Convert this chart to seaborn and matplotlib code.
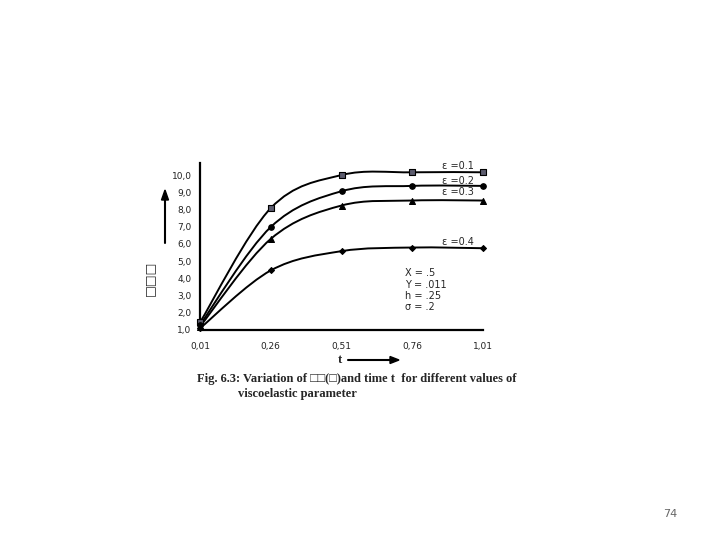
import numpy as np
import pandas as pd
import matplotlib
matplotlib.use("Agg")
import matplotlib.pyplot as plt
import seaborn as sns
from matplotlib.path import Path
from matplotlib.patches import PathPatch

# data
t = [0.01, 0.26, 0.51, 0.76, 1.01]
eps_01 = [1.44, 8.08, 10.00, 10.16, 10.16]
eps_02 = [1.30, 6.98, 9.06, 9.37, 9.37]
eps_03 = [1.20, 6.29, 8.23, 8.52, 8.52]
eps_04 = [1.10, 4.46, 5.58, 5.79, 5.75]
series_labels = ["ε =0.1", "ε =0.2", "ε =0.3", "ε =0.4"]
xtick_labels = ["0,01", "0,26", "0,51", "0,76", "1,01"]
ytick_values = [1, 2, 3, 4, 5, 6, 7, 8, 9, 10]
param_lines = ["X = .5", "Y = .011", "h = .25", "σ = .2"]

series = [eps_01, eps_02, eps_03, eps_04]
markers = ["s", "o", "^", "D"]
msizes = [22, 16, 18, 9]
fills = ["#5c5c6e", "black", "black", "black"]

sns.set_style("white")
plt.rcParams["font.family"] = ["DejaVu Sans"]

fig = plt.figure(figsize=(7.2, 5.4), dpi=100)
W, H = 720, 540
ax = fig.add_axes([200 / W, 1 - 330 / H, 283 / W, 167 / H])


def smooth_path(xs, ys):
    # Excel-like smoothed line: cubic bezier through the points
    p = np.column_stack([xs, ys]).astype(float)
    n = len(p)
    verts = [p[0]]
    codes = [Path.MOVETO]
    for i in range(n - 1):
        prev = p[i - 1] if i > 0 else p[i]
        nxt = p[i + 2] if i + 2 < n else p[i + 1]
        c1 = p[i] + (p[i + 1] - prev) / 6
        c2 = p[i + 1] - (nxt - p[i]) / 6
        verts += [c1, c2, p[i + 1]]
        codes += [Path.CURVE4] * 3
    return Path(verts, codes)


for ys, lab, m, s, fc in zip(series, series_labels, markers, msizes, fills):
    ax.add_patch(PathPatch(smooth_path(t, ys), fill=False, edgecolor="black",
                           lw=1.4, zorder=2))
    df = pd.DataFrame({"t": t, "v": ys})
    sns.scatterplot(data=df, x="t", y="v", marker=m, s=s, color=fc,
                    edgecolor="black", linewidth=0.8, ax=ax, zorder=3,
                    clip_on=False)

ax.set_xlim(0.01, 1.01)
ax.set_ylim(1, 10.7)
ax.set_xticks(t)
ax.set_xticklabels(xtick_labels)
ax.set_yticks(ytick_values)
ax.set_yticklabels([f"{v},0" for v in ytick_values])
ax.tick_params(axis="both", length=0, labelsize=6.5, colors="#222222")
ax.tick_params(axis="x", pad=9)
ax.tick_params(axis="y", pad=6)
ax.set_xlabel("")
ax.set_ylabel("")
for side in ["top", "right"]:
    ax.spines[side].set_visible(False)
for side in ["left", "bottom"]:
    ax.spines[side].set_color("black")
    ax.spines[side].set_linewidth(1.6)

# series labels
for lab, yp in zip(series_labels, [166, 181, 192, 242]):
    fig.text(474 / W, 1 - yp / H, lab, fontsize=7, ha="right", va="center")

# parameter block
for line, yp in zip(param_lines, [273, 285, 296, 307]):
    fig.text(405 / W, 1 - yp / H, line, fontsize=7, ha="left", va="center")

# y axis label and arrow
fig.text(150 / W, 1 - 278 / H, "□□□", rotation=90, fontsize=9,
         fontweight="bold", ha="center", va="center")
fig.add_artist(plt.Line2D([165 / W, 165 / W], [1 - 243 / H, 1 - 198 / H],
                          color="black", lw=1.5))
fig.patches.append(matplotlib.patches.FancyArrow(
    165 / W, 1 - 200 / H, 0, 10 / H, width=0, head_width=7 / W,
    head_length=10 / H, length_includes_head=True, color="black",
    transform=fig.transFigure, figure=fig))

# x axis label and arrow
fig.text(340 / W, 1 - 360 / H, "t", fontsize=9, fontweight="bold",
         family=["Liberation Serif", "DejaVu Sans"], ha="center", va="center")
fig.add_artist(plt.Line2D([348 / W, 392 / W], [1 - 360 / H, 1 - 360 / H],
                          color="black", lw=1.5))
fig.patches.append(matplotlib.patches.FancyArrow(
    390 / W, 1 - 360 / H, 9 / W, 0, width=0, head_width=7 / H,
    head_length=9 / W, length_includes_head=True, color="black",
    transform=fig.transFigure, figure=fig))

# caption
fig.text(197 / W, 1 - 379 / H,
         "Fig. 6.3: Variation of □□(□)and time t  for different values of",
         fontsize=9, fontweight="bold",
         family=["Liberation Serif", "DejaVu Sans"], ha="left", va="center")
fig.text(238 / W, 1 - 394 / H, "viscoelastic parameter", fontsize=9,
         fontweight="bold", family=["Liberation Serif", "DejaVu Sans"],
         ha="left", va="center")

# page number
fig.text(670 / W, 1 - 514 / H, "74", fontsize=8, color="#666666",
         ha="center", va="center")

fig.savefig("out.png", dpi=100)
